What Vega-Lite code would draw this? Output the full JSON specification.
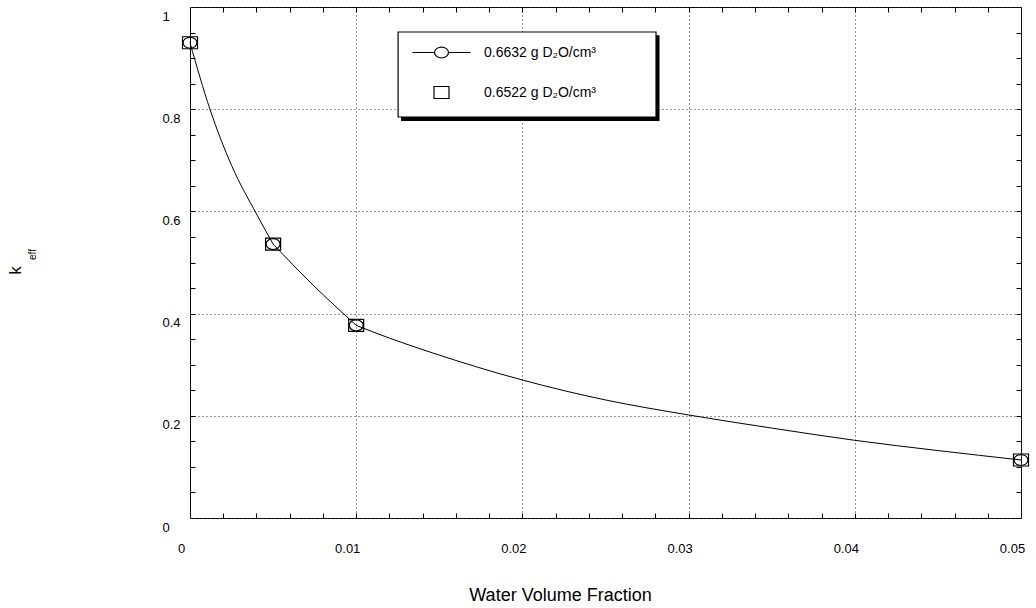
{
  "$schema": "https://vega.github.io/schema/vega-lite/v6.json",
  "width": 831,
  "height": 511,
  "autosize": "none",
  "padding": {"left": 190, "top": 7, "right": 15, "bottom": 90},
  "background": "white",
  "config": {
    "font": "Liberation Sans",
    "view": {"stroke": "black", "strokeWidth": 1},
    "axis": {"labelColor": "black", "titleColor": "black", "tickColor": "black", "titleFontWeight": "normal", "labelFont": "Liberation Sans", "titleFont": "Liberation Sans"}
  },
  "datasets": {
    "curve": [
      {"seg": "a", "x": 0.0, "k": 0.930},
      {"seg": "a", "x": 0.0012, "k": 0.800},
      {"seg": "a", "x": 0.0025, "k": 0.690},
      {"seg": "a", "x": 0.004, "k": 0.595},
      {"seg": "a", "x": 0.005, "k": 0.536},
      {"seg": "b", "x": 0.005, "k": 0.536},
      {"seg": "b", "x": 0.0074, "k": 0.456},
      {"seg": "b", "x": 0.010, "k": 0.377},
      {"seg": "c", "x": 0.010, "k": 0.377},
      {"seg": "c", "x": 0.012, "k": 0.352},
      {"seg": "c", "x": 0.0146, "k": 0.323},
      {"seg": "c", "x": 0.020, "k": 0.270},
      {"seg": "c", "x": 0.025, "k": 0.231},
      {"seg": "c", "x": 0.030, "k": 0.2016},
      {"seg": "c", "x": 0.035, "k": 0.176},
      {"seg": "c", "x": 0.040, "k": 0.152},
      {"seg": "c", "x": 0.045, "k": 0.132},
      {"seg": "c", "x": 0.050, "k": 0.1135}
    ],
    "pts": [
      {"x": 0.0, "k": 0.930, "series": "0.6632 g D₂O/cm³"},
      {"x": 0.005, "k": 0.536, "series": "0.6632 g D₂O/cm³"},
      {"x": 0.010, "k": 0.377, "series": "0.6632 g D₂O/cm³"},
      {"x": 0.050, "k": 0.1135, "series": "0.6632 g D₂O/cm³"},
      {"x": 0.0, "k": 0.930, "series": "0.6522 g D₂O/cm³"},
      {"x": 0.005, "k": 0.536, "series": "0.6522 g D₂O/cm³"},
      {"x": 0.010, "k": 0.377, "series": "0.6522 g D₂O/cm³"},
      {"x": 0.050, "k": 0.1135, "series": "0.6522 g D₂O/cm³"}
    ]
  },
  "resolve": {"axis": {"x": "independent", "y": "independent"}},
  "layer": [
    {
      "data": {"name": "curve"},
      "mark": {"type": "line", "interpolate": "monotone", "color": "black", "strokeWidth": 1},
      "encoding": {
        "detail": {"field": "seg"},
        "x": {
          "field": "x", "type": "quantitative",
          "scale": {"domain": [0, 0.05], "nice": false, "zero": false},
          "axis": {
            "orient": "bottom", "values": [0, 0.01, 0.02, 0.03, 0.04, 0.05], "format": "~g",
            "ticks": false, "domain": false, "grid": true, "gridDash": [1, 3], "gridColor": "#333", "gridWidth": 1,
            "labelFontSize": 13, "labelOffset": -9, "labelPadding": 24, "labelBaseline": "top", "labelFlush": false,
            "title": "Water Volume Fraction", "titleFontSize": 18, "titleX": 370, "titleY": 77, "titleAlign": "center", "titleBaseline": "middle"
          }
        },
        "y": {
          "field": "k", "type": "quantitative",
          "scale": {"domain": [0, 1], "nice": false, "zero": false},
          "axis": {
            "orient": "left", "values": [0, 0.2, 0.4, 0.6, 0.8, 1], "format": "~g",
            "ticks": false, "domain": false, "grid": true, "gridDash": [1, 3], "gridColor": "#333", "gridWidth": 1,
            "labelFontSize": 13, "labelAlign": "left", "labelPadding": 28, "labelOffset": 9, "labelBaseline": "middle", "labelFlush": false,
            "title": "k", "titleFontSize": 17, "titleX": -175, "titleY": 263, "titleAngle": -90, "titleAlign": "center", "titleBaseline": "middle"
          }
        }
      }
    },
    {
      "data": {"values": [{}]},
      "mark": {"type": "rect", "fill": "black", "stroke": null},
      "encoding": {
        "x": {"datum": 0.0127, "type": "quantitative", "axis": null},
        "x2": {"datum": 0.02825},
        "y": {"datum": 0.9445, "type": "quantitative", "axis": null},
        "y2": {"datum": 0.7768}
      }
    },
    {
      "data": {"values": [{}]},
      "mark": {"type": "rect", "fill": "white", "stroke": "black", "strokeWidth": 1.2},
      "encoding": {
        "x": {"datum": 0.01252, "type": "quantitative", "axis": null},
        "x2": {"datum": 0.02804},
        "y": {"datum": 0.9511, "type": "quantitative", "axis": null},
        "y2": {"datum": 0.7847}
      }
    },
    {
      "data": {"name": "pts"},
      "transform": [{"filter": "datum.series === '0.6632 g D₂O/cm³'"}],
      "mark": {"type": "point", "filled": false, "color": "black", "strokeWidth": 1.2, "size": 225, "opacity": 1,
               "shape": "M-0.93,0A0.93,0.73 0 1,0 0.93,0A0.93,0.73 0 1,0 -0.93,0Z"},
      "encoding": {
        "x": {
          "field": "x", "type": "quantitative",
          "axis": {
            "orient": "bottom", "values": [0.002, 0.004, 0.006, 0.008, 0.012, 0.014, 0.016, 0.018, 0.022, 0.024, 0.026, 0.028, 0.032, 0.034, 0.036, 0.038, 0.042, 0.044, 0.046, 0.048, 0.01, 0.02, 0.03, 0.04],
            "labels": false, "domain": false, "grid": false, "ticks": true, "tickSize": -5, "title": null
          }
        },
        "y": {
          "field": "k", "type": "quantitative",
          "axis": {
            "orient": "left", "values": [0.05, 0.1, 0.15, 0.25, 0.3, 0.35, 0.45, 0.5, 0.55, 0.65, 0.7, 0.75, 0.85, 0.9, 0.95, 0.2, 0.4, 0.6, 0.8],
            "labels": false, "domain": false, "grid": false, "ticks": true, "tickSize": -5,
            "title": "eff", "titleFontSize": 10, "titleX": -158, "titleY": 247, "titleAngle": -90, "titleAlign": "center", "titleBaseline": "middle"
          }
        }
      }
    },
    {
      "data": {"name": "pts"},
      "transform": [{"filter": "datum.series === '0.6522 g D₂O/cm³'"}],
      "mark": {"type": "point", "filled": false, "color": "black", "strokeWidth": 1.2, "size": 225, "opacity": 1},
      "encoding": {
        "x": {
          "field": "x", "type": "quantitative",
          "axis": {
            "orient": "top", "values": [0.002, 0.004, 0.006, 0.008, 0.012, 0.014, 0.016, 0.018, 0.022, 0.024, 0.026, 0.028, 0.032, 0.034, 0.036, 0.038, 0.042, 0.044, 0.046, 0.048, 0.01, 0.02, 0.03, 0.04],
            "labels": false, "domain": false, "grid": false, "ticks": true, "tickSize": -5, "title": null
          }
        },
        "y": {
          "field": "k", "type": "quantitative",
          "axis": {
            "orient": "right", "values": [0.05, 0.1, 0.15, 0.25, 0.3, 0.35, 0.45, 0.5, 0.55, 0.65, 0.7, 0.75, 0.85, 0.9, 0.95, 0.2, 0.4, 0.6, 0.8],
            "labels": false, "domain": false, "grid": false, "ticks": true, "tickSize": -5, "title": null
          }
        },
        "shape": {
          "field": "series", "type": "nominal",
          "scale": {
            "domain": ["0.6632 g D₂O/cm³", "0.6522 g D₂O/cm³"],
            "range": ["M-3.87,0H-0.93A0.93,0.73 0 1,0 0.93,0A0.93,0.73 0 1,0 -0.93,0M0.93,0H3.87", "M-1,-0.8H1V0.8H-1Z"]
          },
          "legend": {
            "orient": "none", "legendX": 208, "legendY": 25, "title": null,
            "padding": 12,
            "labelFontSize": 14, "labelColor": "black", "labelOffset": 34, "symbolOffset": 23, "rowPadding": 23,
            "symbolSize": 225, "symbolStrokeColor": "black", "symbolStrokeWidth": 1.2, "symbolFillColor": "transparent",
            "labelLimit": 400
          }
        }
      }
    }
  ]
}
